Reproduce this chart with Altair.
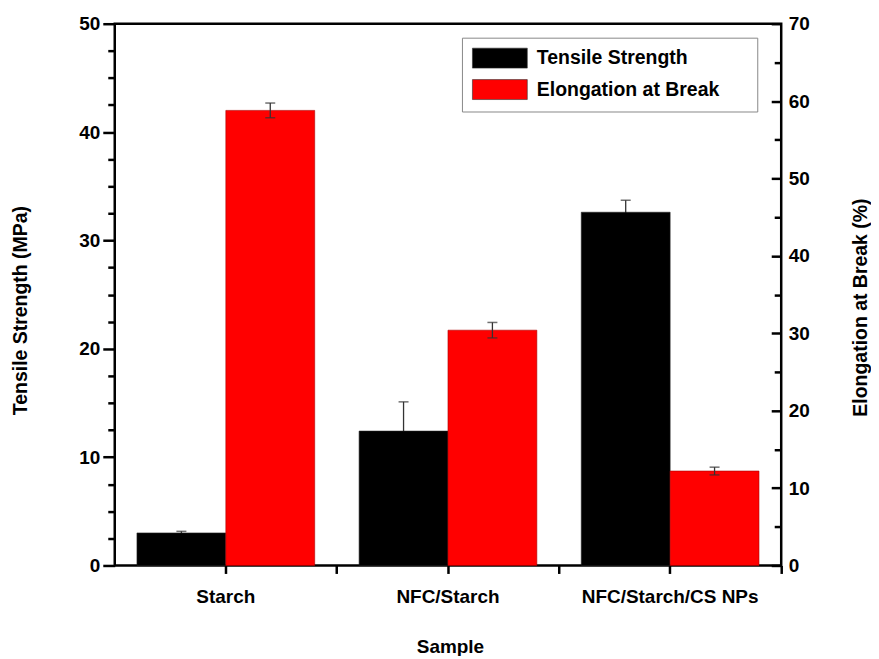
import altair as alt
import pandas as pd

samples = ["Starch", "NFC/Starch", "NFC/Starch/CS NPs"]
series = ["Tensile Strength", "Elongation at Break"]
tensile = [3.0, 12.4, 32.6]
tensile_err = [0.15, 2.7, 1.1]
elong = [58.8, 30.4, 12.2]
elong_err = [0.95, 1.0, 0.5]

ts = pd.DataFrame({"sample": samples, "series": series[0], "value": tensile, "err": tensile_err})
eb = pd.DataFrame({"sample": samples, "series": series[1], "value": elong, "err": elong_err})
for d in (ts, eb):
    d["lower"] = d["value"] - d["err"]
    d["upper"] = d["value"] + d["err"]

FONT = "Liberation Sans, Arial, sans-serif"
W, H = 668, 543

xscale = alt.Scale(domain=samples, paddingInner=0.2, paddingOuter=0.1)
xoff = alt.XOffset("series:N", scale=alt.Scale(domain=series, paddingInner=0, paddingOuter=0))

x_main = alt.X("sample:N", sort=samples, scale=xscale, axis=alt.Axis(
    title="Sample", orient="bottom", labelAngle=0, labelFont=FONT, labelFontSize=19,
    labelFontWeight="bold", labelColor="black", labelPadding=14, labelLimit=400,
    tickSize=8, tickWidth=2.5, tickColor="black", domain=False,
    titleFont=FONT, titleFontSize=19, titleFontWeight="bold", titleColor="black",
    titleX=336, titleY=81, titleBaseline="middle", titleAlign="center"))
x_minor = alt.X("sample:N", sort=samples, scale=xscale, axis=alt.Axis(
    title=None, orient="bottom", labels=False, bandPosition=1.125,
    tickSize=8, tickWidth=2.5, tickColor="black", domain=False))
x_none = alt.X("sample:N", sort=samples, scale=xscale, axis=None)

ts_scale = alt.Scale(domain=[0, 50], nice=False, zero=True)
eb_scale = alt.Scale(domain=[0, 70], nice=False, zero=True)

PAD = "\u00a0" * 5 + "\u200b"
legend = alt.Legend(
    title=None, orient="none", legendX=348, legendY=14,
    strokeColor="#888888", fillColor="white", padding=10,
    symbolType="M-1,-1 L4.5,-1 L4.5,1 L-1,1 Z", symbolSize=400,
    symbolStrokeColor="#333333", symbolStrokeWidth=0.6,
    labelOffset=44, labelFont=FONT, labelFontSize=19.5, labelFontWeight="bold",
    labelColor="black", rowPadding=8.5, labelLimit=400,
    labelExpr="datum.label + '" + PAD + "'")
color = alt.Color("series:N", scale=alt.Scale(domain=series, range=["#000000", "#ff0000"]), legend=legend)

left_vals = [i * 2.5 for i in range(21)]
ts_bars = alt.Chart(ts).mark_bar(stroke="#222222", strokeWidth=0.6).encode(
    x=x_main, xOffset=xoff, color=color,
    y=alt.Y("value:Q", scale=ts_scale, axis=alt.Axis(
        orient="left", values=left_vals,
        labelExpr="datum.value % 10 === 0 ? datum.label : ''",
        tickSize={"condition": {"test": "datum.value % 10 === 0", "value": 12}, "value": 7},
        tickWidth=2.5, tickColor="black", domain=False, grid=False,
        labelFont=FONT, labelFontSize=19, labelFontWeight="bold", labelColor="black", labelPadding=3,
        title="Tensile Strength (MPa)", titleFont=FONT, titleFontSize=19.5, titleFontWeight="bold",
        titleColor="black", titleAngle=270, titleX=-94, titleY=287,
        titleBaseline="middle", titleAlign="center")),
)

eb_bars = alt.Chart(eb).mark_bar(stroke="#aa0000", strokeWidth=0.6).encode(
    x=x_minor, xOffset=xoff, color=color,
    y=alt.Y("value:Q", scale=eb_scale, axis=alt.Axis(
        orient="right", values=list(range(0, 71, 10)), offset=-10,
        tickSize=10, tickWidth=2.5, tickColor="black", domain=False, grid=False,
        labelFont=FONT, labelFontSize=19, labelFontWeight="bold", labelColor="black", labelPadding=7,
        title="Elongation at Break (%)", titleFont=FONT, titleFontSize=19.5, titleFontWeight="bold",
        titleColor="black", titleAngle=270, titleX=89, titleY=284,
        titleBaseline="middle", titleAlign="center")),
)

ts_rule = alt.Chart(ts).mark_rule(color="#333333", strokeWidth=1.3).encode(
    x=x_none, xOffset=xoff,
    y=alt.Y("lower:Q", scale=ts_scale, axis=None), y2="upper:Q")
ts_tick = alt.Chart(ts).transform_fold(["lower", "upper"], as_=["cap", "capv"]).mark_tick(
    color="#333333", thickness=1.5, size=10).encode(
    x=x_none, xOffset=xoff, y=alt.Y("capv:Q", scale=ts_scale, axis=None))

eb_rule = alt.Chart(eb).mark_rule(color="#333333", strokeWidth=1.3).encode(
    x=x_none, xOffset=xoff,
    y=alt.Y("lower:Q", scale=eb_scale, axis=alt.Axis(
        orient="right", values=list(range(5, 70, 10)), offset=-7, labels=False,
        tickSize=7, tickWidth=2.5, tickColor="black", domain=False, grid=False, title=None)),
    y2="upper:Q")
eb_tick = alt.Chart(eb).transform_fold(["lower", "upper"], as_=["cap", "capv"]).mark_tick(
    color="#333333", thickness=1.5, size=10).encode(
    x=x_none, xOffset=xoff, y=alt.Y("capv:Q", scale=eb_scale, axis=None))

chart = alt.layer(ts_rule, ts_tick, ts_bars, eb_bars, eb_rule, eb_tick).resolve_scale(
    y="independent").resolve_axis(x="independent").properties(
    width=W, height=H,
    padding={"left": 107, "top": 15, "right": 90, "bottom": 90},
    autosize=alt.AutoSizeParams(type="none"),
    background="white",
).configure_view(stroke="black", strokeWidth=2.5).configure_axis(grid=False)

chart.save("out.html", embed_options={"renderer": "svg", "actions": False})
